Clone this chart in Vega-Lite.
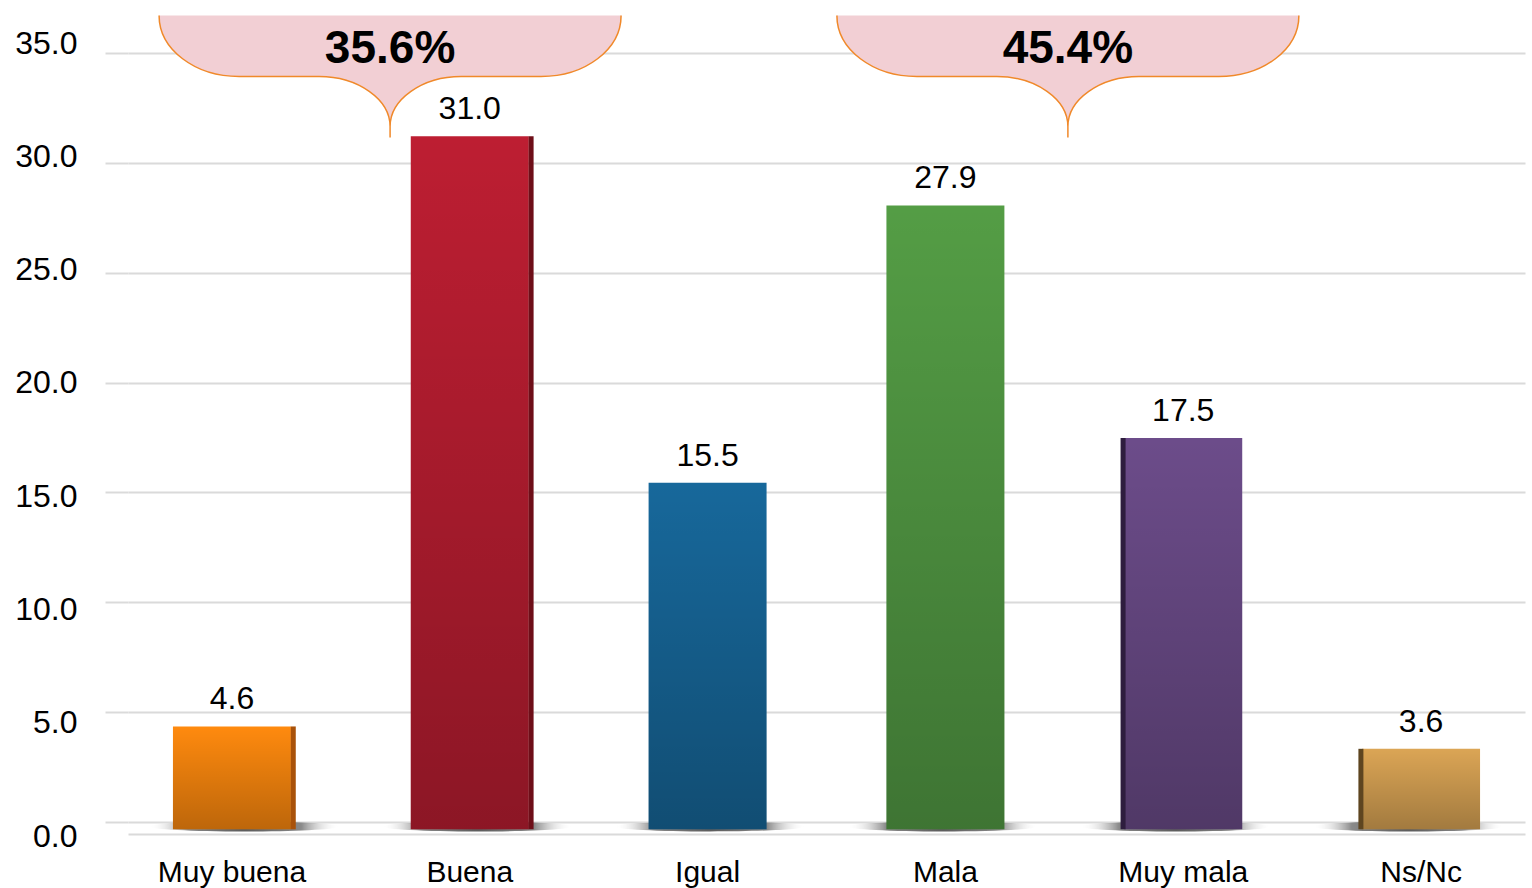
{
  "$schema": "https://vega.github.io/schema/vega-lite/v6.json",
  "width": 1397,
  "height": 793,
  "autosize": {"type": "none"},
  "padding": {"left": 128, "top": 41, "right": 7, "bottom": 54},
  "background": "white",
  "config": {"view": {"stroke": null}, "font": "Liberation Sans"},
  "datasets": {
    "bars": [
      {"cat": "Muy buena", "value": 4.6},
      {"cat": "Buena", "value": 31.0},
      {"cat": "Igual", "value": 15.5},
      {"cat": "Mala", "value": 27.9},
      {"cat": "Muy mala", "value": 17.5},
      {"cat": "Ns/Nc", "value": 3.6}
    ],
    "callouts": [
      {"pos": 0.665, "label": "35.6%"},
      {"pos": 3.515, "label": "45.4%"}
    ]
  },
  "layer": [
    {
      "data": {"name": "bars"},
      "mark": {
        "type": "point",
        "shape": "M -95,0 A 95,5 0 1,0 95,0 A 95,5 0 1,0 -95,0 Z",
        "size": 4,
        "filled": true,
        "opacity": 1,
        "strokeWidth": 0,
        "fill": {"gradient": "radial", "x1": 0.5, "y1": 0.5, "r1": 0, "x2": 0.5, "y2": 0.5, "r2": 0.5,
          "stops": [{"offset": 0, "color": "#5a5a5a"}, {"offset": 0.6, "color": "#8a8a8a"}, {"offset": 1, "color": "rgba(255,255,255,0)"}]}
      },
      "encoding": {
        "x": {"field": "cat", "type": "nominal",
          "scale": {"domain": ["Muy buena", "Buena", "Igual", "Mala", "Muy mala", "Ns/Nc"], "paddingInner": 0.504, "paddingOuter": 0.189},
          "axis": null},
        "y": {"datum": -0.205, "type": "quantitative",
          "scale": {"domain": [-0.546, 35.546], "nice": false, "zero": false},
          "axis": {"orient": "left", "title": null, "values": [0, 5, 10, 15, 20, 25, 30, 35], "labels": false,
            "grid": true, "gridColor": "#DADADA", "gridWidth": 2, "ticks": true, "tickSize": 23, "tickColor": "#DADADA", "tickWidth": 2, "domain": false}}
      }
    },
    {
      "data": {"name": "bars"},
      "encoding": {
        "x": {"field": "cat", "type": "nominal",
          "scale": {"domain": ["Muy buena", "Buena", "Igual", "Mala", "Muy mala", "Ns/Nc"], "paddingInner": 0.504, "paddingOuter": 0.189},
          "axis": {"title": null, "labelAngle": 0, "labelFontSize": 30, "labelColor": "#000", "labelPadding": 23, "ticks": false,
            "domain": true, "domainColor": "#DADADA", "domainWidth": 2, "grid": false, "labelFont": "Liberation Sans"}},
        "y": {"field": "value", "type": "quantitative",
          "scale": {"domain": [-0.21, 35.255], "nice": false, "zero": false}, "axis": null}
      },
      "layer": [
        {
          "mark": {"type": "bar"},
          "encoding": {
            "y2": {"datum": 0},
            "fill": {"field": "cat", "type": "nominal",
              "scale": {"domain": ["Muy buena", "Buena", "Igual", "Mala", "Muy mala", "Ns/Nc"],
                "range": ["#FF8A0E", "#BD1E32", "#17689B", "#549D45", "#6C4C8A", "#DBA555"]},
              "legend": null}
          }
        },
        {
          "mark": {"type": "bar",
            "fill": {"gradient": "linear", "x1": 0, "y1": 0, "x2": 0, "y2": 1,
              "stops": [{"offset": 0, "color": "rgba(0,0,0,0)"}, {"offset": 1, "color": "rgba(0,0,0,0.26)"}]}},
          "encoding": {"y2": {"datum": 0}}
        },
        {
          "transform": [{"filter": {"field": "cat", "oneOf": ["Muy buena", "Buena"]}}],
          "mark": {"type": "rule", "strokeWidth": 5},
          "encoding": {
            "x": {"field": "cat", "type": "nominal", "bandPosition": 1.02,
              "scale": {"domain": ["Muy buena", "Buena", "Igual", "Mala", "Muy mala", "Ns/Nc"], "paddingInner": 0.504, "paddingOuter": 0.189}},
            "y2": {"datum": 0},
            "stroke": {"field": "cat", "type": "nominal",
              "scale": {"domain": ["Muy buena", "Buena", "Igual", "Mala", "Muy mala", "Ns/Nc"],
                "range": ["#A9520A", "#6E0E18", "#0E3F5E", "#2F5A26", "#2E1D3E", "#5E4520"]},
              "legend": null}
          }
        },
        {
          "transform": [{"filter": {"field": "cat", "oneOf": ["Muy mala", "Ns/Nc"]}}],
          "mark": {"type": "rule", "strokeWidth": 5},
          "encoding": {
            "x": {"field": "cat", "type": "nominal", "bandPosition": -0.01,
              "scale": {"domain": ["Muy buena", "Buena", "Igual", "Mala", "Muy mala", "Ns/Nc"], "paddingInner": 0.504, "paddingOuter": 0.189}},
            "y2": {"datum": 0},
            "stroke": {"field": "cat", "type": "nominal",
              "scale": {"domain": ["Muy buena", "Buena", "Igual", "Mala", "Muy mala", "Ns/Nc"],
                "range": ["#A9520A", "#6E0E18", "#0E3F5E", "#2F5A26", "#2E1D3E", "#5E4520"]},
              "legend": null}
          }
        },
        {
          "mark": {"type": "text", "dy": -27, "baseline": "middle", "fontSize": 32, "color": "#000", "font": "Liberation Sans"},
          "encoding": {"text": {"field": "value", "type": "quantitative", "format": ".1f"}}
        }
      ]
    },
    {
      "data": {"name": "callouts"},
      "encoding": {
        "x": {"field": "pos", "type": "quantitative", "scale": {"domain": [-0.437, 5.437], "nice": false, "zero": false}, "axis": null}
      },
      "layer": [
        {
          "mark": {"type": "point",
            "shape": "M -231,-122 C -231,-88 -195,-61 -151,-61 L -71,-61 C -32,-61 0,-38 0,-11 L 0,0 L 0,-11 C 0,-38 32,-61 71,-61 L 151,-61 C 195,-61 231,-88 231,-122 Z",
            "size": 4, "filled": true, "opacity": 1, "fill": "#F2CFD4", "strokeWidth": 0},
          "encoding": {
            "y": {"datum": 30.74, "type": "quantitative",
              "scale": {"domain": [0, 35], "nice": false, "zero": false},
              "axis": {"orient": "left", "title": null, "values": [0, 5, 10, 15, 20, 25, 30, 35], "format": ".1f",
                "labelFontSize": 32, "labelColor": "#000", "labelFont": "Liberation Sans", "labelPadding": 51, "labelOffset": 2,
                "ticks": false, "domain": false, "grid": false, "labelFlush": false, "labelOverlap": false}}
          }
        },
        {
          "mark": {"type": "point",
            "shape": "M -231,-122 C -231,-88 -195,-61 -151,-61 L -71,-61 C -32,-61 0,-38 0,-11 L 0,0 L 0,-11 C 0,-38 32,-61 71,-61 L 151,-61 C 195,-61 231,-88 231,-122",
            "size": 4, "filled": false, "opacity": 1, "fill": "transparent", "stroke": "#F0892A", "strokeWidth": 1.5},
          "encoding": {
            "y": {"datum": 30.74, "type": "quantitative", "scale": {"domain": [0, 35], "nice": false, "zero": false}}
          }
        },
        {
          "mark": {"type": "text", "fontSize": 46, "fontWeight": "bold", "baseline": "middle", "color": "#000", "font": "Liberation Sans"},
          "encoding": {
            "y": {"datum": 34.66, "type": "quantitative", "scale": {"domain": [0, 35], "nice": false, "zero": false}},
            "text": {"field": "label", "type": "nominal"}
          }
        }
      ]
    }
  ],
  "resolve": {"scale": {"x": "independent", "y": "independent"}}
}
